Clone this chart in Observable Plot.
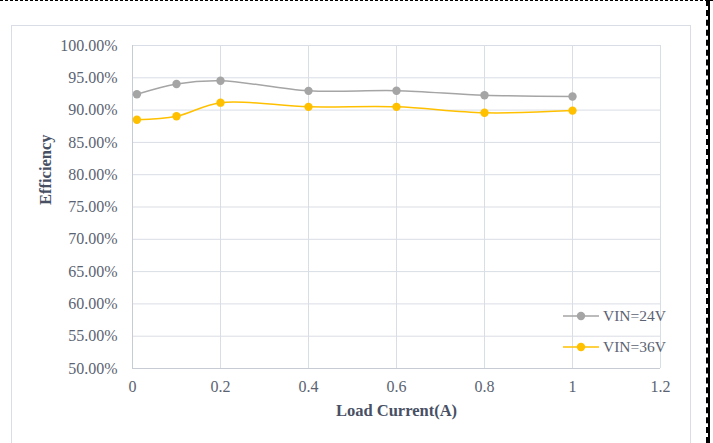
<!DOCTYPE html>
<html>
<head>
<meta charset="utf-8">
<script src="https://cdn.jsdelivr.net/npm/d3@7"></script>
<script src="https://cdn.jsdelivr.net/npm/@observablehq/plot@0.6"></script>
<style>
  html, body { margin: 0; padding: 0; background: #fff; }
  #wrap { position: relative; width: 713px; height: 443px; overflow: hidden; background: #fff; }
  #frame { position: absolute; left: 11px; top: 25px; width: 680px; height: 440px; border: 1px solid #d9dde5; box-sizing: border-box; }
  #topdash { position: absolute; left: 0; top: 0; width: 713px; height: 0; border-top: 1.5px dashed #000; }
  #rightline { position: absolute; left: 708px; top: 0; width: 2px; height: 443px; background: #000; }
  #rightdash { position: absolute; left: 706px; top: 0; width: 0; height: 443px; border-left: 2px dashed #000; }
  #chart { position: absolute; left: 0; top: 0; }
  .legend { position: absolute; left: 563px; font-family: "Liberation Serif", serif; font-size: 15.5px; color: #5b6372; }
  .legend svg { position: absolute; left: 0; top: 0; }
  .legend span { position: absolute; left: 40px; white-space: nowrap; }
</style>
</head>
<body>
<div id="wrap">
  <div id="topdash"></div>
  <div id="rightdash"></div>
  <div id="rightline"></div>
  <div id="frame"></div>
  <div id="chart"></div>
  <div id="legend"></div>
</div>
<script>
// Data
const loadCurrent = [0.01, 0.1, 0.2, 0.4, 0.6, 0.8, 1.0];
const eff24 = [0.9245, 0.9405, 0.9455, 0.9298, 0.9300, 0.9230, 0.9210];
const eff36 = [0.8850, 0.8905, 0.9115, 0.9050, 0.9050, 0.8958, 0.8992];
const seriesNames = ["VIN=24V", "VIN=36V"];
const seriesColors = ["#A5A5A5", "#FFC000"];
const xTicks = [0, 0.2, 0.4, 0.6, 0.8, 1, 1.2];
const yTicks = [0.5, 0.55, 0.6, 0.65, 0.7, 0.75, 0.8, 0.85, 0.9, 0.95, 1.0];

const rows = [];
[eff24, eff36].forEach((vals, si) => {
  vals.forEach((v, i) => rows.push({series: seriesNames[si], x: loadCurrent[i], y: v}));
});

const tickColor = "#5b6372";
const font = "Liberation Serif, Times New Roman, serif";

const chart = Plot.plot({
  width: 713,
  height: 443,
  marginLeft: 132,
  marginRight: 53,
  marginTop: 45,
  marginBottom: 75,
  style: {fontFamily: font, background: "transparent", overflow: "visible"},
  x: {domain: [0, 1.2]},
  y: {domain: [0.5, 1.0]},
  color: {domain: seriesNames, range: seriesColors},
  marks: [
    Plot.gridY(yTicks, {stroke: "#d9dde5", strokeOpacity: 1, strokeWidth: 1}),
    Plot.gridX(xTicks, {stroke: "#d9dde5", strokeOpacity: 1, strokeWidth: 1}),
    Plot.ruleY([0.5], {stroke: "#c6cbd4", strokeWidth: 1.2}),
    Plot.ruleX([0], {stroke: "#c6cbd4", strokeWidth: 1}),
    Plot.line(rows, {x: "x", y: "y", z: "series", stroke: "series", strokeWidth: 1.5, curve: "catmull-rom"}),
    Plot.dot(rows, {x: "x", y: "y", fill: "series", r: 4.2, stroke: null}),
    Plot.axisY(yTicks, {tickSize: 0, tickPadding: 15, tickFormat: d3.format(".2%"), fontSize: 16, fill: tickColor, label: null}),
    Plot.axisX(xTicks, {tickSize: 0, tickPadding: 12, tickFormat: d => String(d), fontSize: 16, fill: tickColor, label: null}),
    Plot.text(["Load Current(A)"], {frameAnchor: "bottom", dy: 47, fontSize: 16.5, fontWeight: "bold", fill: "#485064"}),
    Plot.text(["Efficiency"], {frameAnchor: "left", dx: -87, dy: -2, rotate: -90, fontSize: 16.5, fontWeight: "bold", fill: "#485064"})
  ]
});
document.getElementById("chart").appendChild(chart);

// Legend (inside the plot area, right side)
const legend = document.getElementById("legend");
const legendTops = [315.5, 346.5];
seriesNames.forEach((name, i) => {
  const item = document.createElement("div");
  item.className = "legend";
  item.style.top = (legendTops[i] - 10) + "px";
  item.innerHTML = `<svg width="40" height="20"><line x1="0" x2="36" y1="10" y2="10" stroke="${seriesColors[i]}" stroke-width="1.5"/><circle cx="18" cy="10" r="4.2" fill="${seriesColors[i]}"/></svg><span style="top:0px;line-height:20px">${name}</span>`;
  legend.appendChild(item);
});
</script>
</body>
</html>
